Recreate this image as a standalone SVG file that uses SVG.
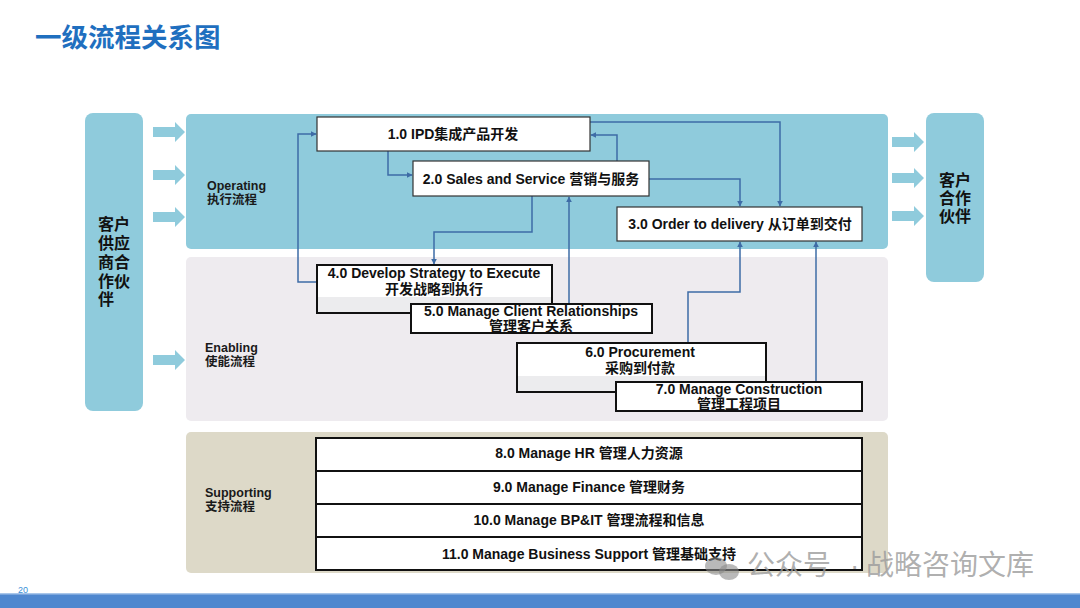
<svg xmlns="http://www.w3.org/2000/svg" width="1080" height="608" viewBox="0 0 1080 608">
<defs>
<style>
.t{font-family:"Liberation Sans","Noto Sans CJK SC",sans-serif;font-weight:bold;fill:#111}
.nt{font-size:14px;text-anchor:middle}
.lb{font-size:12.5px;fill:#1a1a1a}
.side{font-size:16px;text-anchor:middle}
.c{fill:none;stroke:#3E6CA6;stroke-width:1.5;marker-end:url(#ah)}
.op{fill:#8FCBDC}
.thin{fill:#fff;stroke:#333;stroke-width:1.2}
.thick{fill:#fff;stroke:#111;stroke-width:2}
.fade{fill:#ECECEE}
.bigarrow{fill:#8FCBDC}
.wm{font-family:"Noto Sans CJK SC",sans-serif;font-size:28px;fill:#9a9a9a;fill-opacity:0.8}
.dot{font-family:"Liberation Sans",sans-serif;font-size:28px;fill:#9a9a9a;fill-opacity:0.8}
</style>
<marker id="ah" viewBox="0 0 10 10" refX="9" refY="5" markerWidth="6" markerHeight="6" orient="auto" markerUnits="userSpaceOnUse">
<path d="M0,0 L10,5 L0,10 z" fill="#3E6CA6"/>
</marker>
<path id="arr" d="M0,-5 H22 V-10 L32,0 L22,10 V5 H0 Z"/>
</defs>
<rect width="1080" height="608" fill="#fff"/>
<text x="35" y="47" font-family="Liberation Sans,'Noto Sans CJK SC',sans-serif" font-weight="bold" font-size="26.5" fill="#1F6FBF">一级流程关系图</text>

<g id="bands">
<rect x="186" y="114" width="702" height="135" rx="5" class="op"/>
<rect x="186" y="257" width="702" height="164" rx="5" fill="#EEEBEF"/>
<rect x="186" y="432" width="702" height="141" rx="5" fill="#DDD9C8"/>
<text class="t lb" x="207" y="190">Operating</text>
<text class="t lb" x="207" y="204">执行流程</text>
<text class="t lb" x="205" y="352">Enabling</text>
<text class="t lb" x="205" y="366">使能流程</text>
<text class="t lb" x="205" y="497">Supporting</text>
<text class="t lb" x="205" y="511">支持流程</text>
</g>

<g id="suppliers">
<rect x="85" y="113" width="58" height="298" rx="8" class="op"/>
<text class="t side" x="114" y="230">客户</text>
<text class="t side" x="114" y="249">供应</text>
<text class="t side" x="114" y="268">商合</text>
<text class="t side" x="114" y="287">作伙</text>
<text class="t side" x="106" y="305">伴</text>
</g>

<g id="customers">
<rect x="926" y="113" width="58" height="169" rx="8" class="op"/>
<text class="t side" x="955" y="186">客户</text>
<text class="t side" x="955" y="204">合作</text>
<text class="t side" x="955" y="222">伙伴</text>
</g>

<g id="input-arrows" class="bigarrow">
<use href="#arr" x="153" y="132"/>
<use href="#arr" x="153" y="175"/>
<use href="#arr" x="153" y="217"/>
<use href="#arr" x="153" y="360"/>
<use href="#arr" x="892" y="142"/>
<use href="#arr" x="892" y="178"/>
<use href="#arr" x="892" y="216"/>
</g>

<g id="connectors">
<path class="c" d="M317,282 H298 V134 H316"/>
<path class="c" d="M388,151 V175 H412"/>
<path class="c" d="M532,196 V232 H434 V264"/>
<path class="c" d="M569,304 V197"/>
<path class="c" d="M617,161 V135 H591"/>
<path class="c" d="M590,122 H780 V206"/>
<path class="c" d="M649,179 H740 V206"/>
<path class="c" d="M688,343 V292 H740 V242"/>
<path class="c" d="M816,382 V242"/>
</g>

<g id="n1">
<rect x="317" y="117" width="273" height="34" class="thin"/>
<text class="t nt" x="453" y="139">1.0 IPD集成产品开发</text>
</g>
<g id="n2">
<rect x="413" y="161" width="236" height="35" class="thin"/>
<text class="t nt" x="531" y="184">2.0 Sales and Service 营销与服务</text>
</g>
<g id="n3">
<rect x="617" y="207" width="245" height="34" class="thin"/>
<text class="t nt" x="740" y="229">3.0 Order to delivery 从订单到交付</text>
</g>
<g id="n4">
<rect x="317" y="265" width="235" height="48" class="thick"/>
<rect x="318" y="297" width="233" height="15" class="fade"/>
<text class="t nt" x="434" y="278">4.0 Develop Strategy to Execute</text>
<text class="t nt" x="434" y="294">开发战略到执行</text>
</g>
<g id="n5">
<rect x="411" y="304" width="241" height="29" class="thick"/>
<text class="t nt" x="531" y="316">5.0 Manage Client Relationships</text>
<text class="t nt" x="531" y="331">管理客户关系</text>
</g>
<g id="n6">
<rect x="517" y="343" width="249" height="49" class="thick"/>
<rect x="518" y="376" width="247" height="15" class="fade"/>
<text class="t nt" x="640" y="357">6.0 Procurement</text>
<text class="t nt" x="640" y="373">采购到付款</text>
</g>
<g id="n7">
<rect x="616" y="382" width="246" height="29" class="thick"/>
<text class="t nt" x="739" y="394">7.0 Manage Construction</text>
<text class="t nt" x="739" y="409">管理工程项目</text>
</g>

<g id="n8">
<rect x="316" y="438" width="546" height="33" class="thick"/>
<text class="t nt" x="589" y="458">8.0 Manage HR 管理人力资源</text>
</g>
<g id="n9">
<rect x="316" y="471" width="546" height="33" class="thick"/>
<text class="t nt" x="589" y="492">9.0 Manage Finance 管理财务</text>
</g>
<g id="n10">
<rect x="316" y="504" width="546" height="33" class="thick"/>
<text class="t nt" x="589" y="525">10.0 Manage BP&amp;IT 管理流程和信息</text>
</g>
<g id="n11">
<rect x="316" y="537" width="546" height="33" class="thick"/>
<text class="t nt" x="589" y="559">11.0 Manage Business Support 管理基础支持</text>
</g>

<g id="watermark">
<ellipse cx="716" cy="566" rx="11" ry="9" fill="#8a8a8a" fill-opacity="0.6"/>
<ellipse cx="729" cy="572" rx="10" ry="8" fill="#8a8a8a" fill-opacity="0.6"/>
<text class="wm" x="747" y="575">公众号</text>
<text class="dot" x="850" y="575">·</text>
<text class="wm" x="866" y="575">战略咨询文库</text>
</g>

<rect x="0" y="594" width="1080" height="14" fill="#4F87CF"/>
<rect x="0" y="593" width="1080" height="1.5" fill="#A9C6EA"/>
<text x="18" y="593" font-family="Liberation Sans,sans-serif" font-size="9" fill="#3A8FD8">20</text>
</svg>
